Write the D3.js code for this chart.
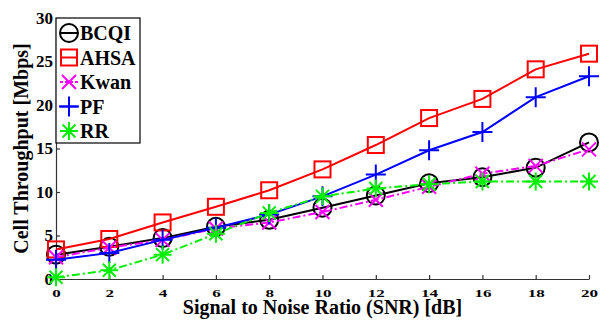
<!DOCTYPE html>
<html>
<head>
<meta charset="utf-8">
<script src="https://cdn.jsdelivr.net/npm/d3@7"></script>
<style>
  body { margin: 0; background: #fff; }
  .axis path, .axis line { stroke: #333; stroke-width: 1.2; }
</style>
</head>
<body>
<div id="chart"></div>
<script>
// data
var snr = [0, 2, 4, 6, 8, 10, 12, 14, 16, 18, 20];
var bcqi = [2.8, 3.7, 4.7, 6.0, 6.8, 8.2, 9.6, 11.0, 11.7, 12.8, 15.7];
var ahsa = [3.4, 4.6, 6.5, 8.3, 10.2, 12.6, 15.4, 18.5, 20.7, 24.1, 25.9];
var kwan = [2.5, 3.6, 4.5, 5.8, 6.5, 7.7, 9.1, 10.6, 12.1, 13.0, 14.9];
var pf   = [2.2, 3.0, 4.5, 5.9, 7.4, 9.5, 12.0, 14.8, 16.9, 20.9, 23.3];
var rr   = [0.2, 1.0, 2.8, 5.2, 7.6, 9.5, 10.4, 10.9, 11.2, 11.2, 11.2];
var xTicks = [0, 2, 4, 6, 8, 10, 12, 14, 16, 18, 20];
var yTicks = [0, 5, 10, 15, 20, 25, 30];

var series = [
  { name: "BCQI", values: bcqi, color: "#000000", marker: "circle", dash: null },
  { name: "AHSA", values: ahsa, color: "#ff0000", marker: "square", dash: null },
  { name: "Kwan", values: kwan, color: "#ff00ff", marker: "x", dash: "8,3,2,3" },
  { name: "PF",   values: pf,   color: "#0000ff", marker: "plus", dash: null },
  { name: "RR",   values: rr,   color: "#00ee00", marker: "star", dash: "8,3,2,3" }
];

var serif = "'Liberation Serif', 'Times New Roman', 'DejaVu Serif', serif";

var margin = { top: 18, right: 23, bottom: 41, left: 56 };
var width  = 612 - margin.left - margin.right;
var height = 320 - margin.top - margin.bottom;

var svg = d3.select("#chart").append("svg")
    .attr("width", 612)
    .attr("height", 320)
    .style("font-family", serif)
    .style("font-weight", "bold");

var g = svg.append("g")
    .attr("transform", "translate(" + margin.left + "," + margin.top + ")");

var x = d3.scaleLinear().domain([0, 20]).range([0, width]);
var y = d3.scaleLinear().domain([0, 30]).range([height, 0]);

// axes, ticks pointing inside
var xAxisG = g.append("g")
    .attr("class", "axis")
    .attr("transform", "translate(0," + height + ")")
    .call(d3.axisBottom(x).tickValues(xTicks).tickSizeInner(-4).tickSizeOuter(0));

var yAxisG = g.append("g")
    .attr("class", "axis")
    .call(d3.axisLeft(y).tickValues(yTicks).tickSizeInner(-4).tickSizeOuter(0).tickPadding(3));

[xAxisG, yAxisG].forEach(function(a) {
  a.attr("font-family", null).attr("font-size", null);
  a.selectAll("text")
      .style("font-family", serif)
      .style("font-weight", "bold")
      .style("font-size", "17px")
      .attr("fill", "#000");
});

// x tick labels look squashed in the original figure
xAxisG.selectAll("text")
    .attr("y", 0)
    .attr("dy", 0)
    .attr("transform", "translate(0,18) scale(1,0.66)");

// axis labels
g.append("text")
    .attr("x", width / 2)
    .attr("y", height + 35)
    .attr("text-anchor", "middle")
    .style("font-size", "20px")
    .text("Signal to Noise Ratio (SNR) [dB]");

g.append("text")
    .attr("transform", "rotate(-90)")
    .attr("x", -height / 2)
    .attr("y", -28)
    .attr("text-anchor", "middle")
    .style("font-size", "20px")
    .text("Cell Throughput [Mbps]");

// marker drawing
function drawMarker(sel, type, color) {
  sel.attr("fill", "none").attr("stroke", color).attr("stroke-width", 2);
  if (type == "circle") {
    sel.append("circle").attr("r", 9);
  } else if (type == "square") {
    sel.append("rect").attr("x", -8).attr("y", -8).attr("width", 16).attr("height", 16);
  } else if (type == "x") {
    sel.append("path").attr("d", "M-7,-7L7,7M-7,7L7,-7");
  } else if (type == "plus") {
    sel.append("path").attr("d", "M-10,0L10,0M0,-10L0,10");
  } else if (type == "star") {
    sel.append("path").attr("d", "M-9,0L9,0M0,-9L0,9M-6.5,-6.5L6.5,6.5M-6.5,6.5L6.5,-6.5");
  }
}

var line = d3.line()
    .x(function(d, i) { return x(snr[i]); })
    .y(function(d) { return y(d); });

series.forEach(function(s) {
  g.append("path")
      .datum(s.values)
      .attr("fill", "none")
      .attr("stroke", s.color)
      .attr("stroke-width", 2)
      .attr("stroke-dasharray", s.dash)
      .attr("d", line);

  s.values.forEach(function(v, i) {
    var m = g.append("g").attr("transform", "translate(" + x(snr[i]) + "," + y(v) + ")");
    drawMarker(m, s.marker, s.color);
  });
});

// legend
var legend = g.append("g");
legend.append("rect")
    .attr("x", 0).attr("y", 0)
    .attr("width", 84).attr("height", 125)
    .attr("fill", "#fff")
    .attr("stroke", "#000")
    .attr("stroke-width", 1.2);

series.forEach(function(s, i) {
  var row = legend.append("g").attr("transform", "translate(0," + (15 + i * 24.5) + ")");
  row.append("line")
      .attr("x1", 4).attr("x2", 22)
      .attr("stroke", s.color)
      .attr("stroke-width", 2)
      .attr("stroke-dasharray", s.dash ? "3,2" : null);
  drawMarker(row.append("g").attr("transform", "translate(13,0)"), s.marker, s.color);
  row.append("text")
      .attr("x", 24)
      .attr("dy", "0.35em")
      .style("font-size", "20px")
      .text(s.name);
});
</script>
</body>
</html>
